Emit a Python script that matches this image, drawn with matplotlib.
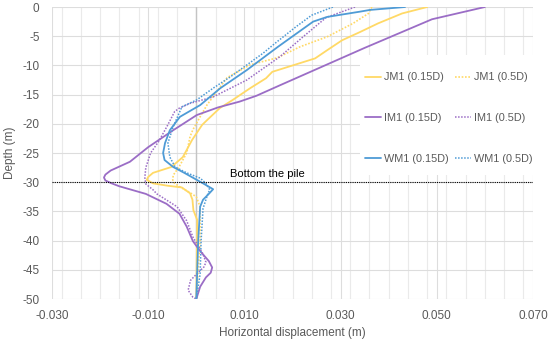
import matplotlib
matplotlib.use("Agg")
import matplotlib.pyplot as plt
from matplotlib.ticker import MultipleLocator, FixedLocator
from matplotlib.patches import Rectangle

plt.rcParams['font.family'] = ['Liberation Sans', 'DejaVu Sans']

# ---------------- data (depth in m, displacement in m) ----------------
jm1_015_depth = [0, -1.1, -2.8, -4.3, -5.7, -7.4, -8.8, -9.6, -11.1, -12.2, -13.9, -15.9, -17.3,
                 -19.4, -20.2, -22.8, -25.7, -27.4, -28.4, -29.1, -29.6, -30.2, -30.6, -30.9,
                 -31.9, -33.0, -34.8, -36.5, -50]
jm1_015_disp = [0.048, 0.0428, 0.0378, 0.034, 0.0303, 0.0272, 0.0247, 0.0216, 0.0158, 0.0145, 0.0112,
                0.0076, 0.0049, 0.0022, 0.0012, -0.0009, -0.0028, -0.0052, -0.0090, -0.0100, -0.0103,
                -0.0090, -0.0060, -0.0030, -0.0013, -0.0008, -0.0006, 0.0002, 0.0]

jm1_05_depth = [0, -1.1, -2.8, -5.1, -6.8, -8.7, -9.9, -12.1, -14.2, -16.8, -18.8, -21.0, -22.2,
                -25.0, -27.4, -28.8, -29.6, -30.2, -30.8, -31.8, -32.5, -34.2, -40.0, -50]
jm1_05_disp = [0.0365, 0.0358, 0.0326, 0.0272, 0.0216, 0.0168, 0.0112, 0.0064, 0.0045, 0.0022, 0.0008,
               -0.0007, -0.0013, -0.0020, -0.0036, -0.0048, -0.0049, -0.0045, -0.0034, -0.0013,
               0.0, 0.0008, 0.0008, 0.0]

im1_015_depth = [0, -2.1, -7.0, -13.4, -15.2, -16.2, -17.2, -18.5, -21.1, -24.0, -26.5, -28.0,
                 -28.7, -29.2, -29.7, -30.2, -30.7, -32.0, -33.7, -35.4, -37.6, -40.1, -41.8,
                 -43.5, -44.6, -45.5, -46.3, -47.9, -50]
im1_015_disp = [0.060, 0.049, 0.035, 0.0174, 0.0125, 0.0090, 0.0045, 0.0001, -0.0048, -0.0100, -0.0138,
                -0.0178, -0.0189, -0.0192, -0.0189, -0.0176, -0.0160, -0.0105, -0.0062, -0.0035,
                -0.0020, -0.0007, 0.0008, 0.0026, 0.0033, 0.0030, 0.0020, 0.0008, 0.0]

im1_05_depth = [0, -1.8, -5.1, -8.5, -12.5, -15.4, -16.5, -17.3, -17.9, -20.3, -23.0, -25.0,
                -27.5, -29.2, -30.3, -31.3, -32.0, -34.2, -36.6, -39.4, -42.3, -43.7, -44.5,
                -45.7, -46.8, -48.5, -49.7, -50]
im1_05_disp = [0.033, 0.027, 0.0222, 0.0174, 0.0105, 0.0035, -0.0013, -0.0035, -0.0045, -0.0060,
               -0.0078, -0.0095, -0.0105, -0.0107, -0.0105, -0.0090, -0.0082, -0.0040, -0.0020,
               -0.0007, 0.0014, 0.0020, 0.0016, 0.0001, -0.0012, -0.0017, -0.0007, 0.0]

wm1_015_depth = [0, -0.5, -0.8, -1.7, -2.5, -6.8, -10.8, -13.9, -16.8, -18.8, -21.1, -23.3, -25.0,
                 -26.2, -27.4, -28.4, -29.6, -30.2, -31.2, -32.0, -33.0, -34.2, -40.0, -50]
wm1_015_disp = [0.0434, 0.0361, 0.034, 0.0272, 0.0243, 0.0170, 0.0105, 0.0050, 0.0008, -0.0034,
                -0.0055, -0.0065, -0.0069, -0.0066, -0.0048, -0.0025, 0.0001, 0.0014, 0.0035,
                0.0026, 0.0014, 0.0008, 0.0004, 0.0]

wm1_05_depth = [0, -1.4, -3.4, -6.2, -7.9, -12.0, -13.9, -15.9, -17.1, -20.5, -23.3, -25.7, -27.4,
                -28.4, -29.3, -30.2, -31.3, -32.0, -33.0, -34.5, -40.0, -45.7, -50]
wm1_05_disp = [0.0284, 0.0240, 0.0207, 0.0164, 0.0139, 0.0070, 0.0035, 0.0001, -0.0030, -0.0048,
               -0.0059, -0.0055, -0.0044, -0.0020, 0.0008, 0.0020, 0.0028, 0.0024, 0.0020, 0.0014,
               0.0010, 0.0008, 0.0]

x_ticks = [-0.030, -0.010, 0.010, 0.030, 0.050, 0.070]
y_ticks = [0, -5, -10, -15, -20, -25, -30, -35, -40, -45, -50]
pile_bottom = -30

# ---------------- styling ----------------
YEL = '#FFD966'
PUR = '#9B6DC6'
BLU = '#4E9BD6'
TXT = '#595959'
DOT = (0, (1, 1))

fig = plt.figure(figsize=(5.5, 3.48), dpi=100)
ax = fig.add_axes([52 / 550, 1 - 299 / 348, 481 / 550, 292 / 348])

ax.set_xlim(-0.030, 0.070)
ax.set_ylim(-50, 0)
ax.xaxis.set_major_locator(FixedLocator(x_ticks))
ax.xaxis.set_minor_locator(MultipleLocator(0.004))
ax.yaxis.set_major_locator(FixedLocator(y_ticks))
ax.set_xticklabels([f"{v:.3f}" for v in x_ticks])
ax.set_yticklabels([f"{v:d}" for v in y_ticks])
ax.tick_params(which='both', length=0, labelsize=8.5, labelcolor=TXT)
ax.tick_params(axis='x', pad=8)
ax.tick_params(axis='y', pad=9)
ax.grid(which='major', color='#DDDDDD', linewidth=0.8)
ax.grid(which='minor', axis='x', color='#EAEAEA', linewidth=0.8)
ax.set_axisbelow(True)
for s in ax.spines.values():
    s.set_visible(False)
ax.axvline(0, color='#C4C4C4', linewidth=1.0, zorder=1)

kw = dict(solid_joinstyle='round', solid_capstyle='round')
l1, = ax.plot(jm1_015_disp, jm1_015_depth, color=YEL, lw=1.3, label='JM1 (0.15D)', **kw)
l2, = ax.plot(jm1_05_disp, jm1_05_depth, color=YEL, lw=1.2, ls=DOT, label='JM1 (0.5D)')
l3, = ax.plot(im1_015_disp, im1_015_depth, color=PUR, lw=1.3, label='IM1 (0.15D)', **kw)
l4, = ax.plot(im1_05_disp, im1_05_depth, color=PUR, lw=1.1, ls=DOT, label='IM1 (0.5D)')
l5, = ax.plot(wm1_015_disp, wm1_015_depth, color=BLU, lw=1.3, label='WM1 (0.15D)', **kw)
l6, = ax.plot(wm1_05_disp, wm1_05_depth, color=BLU, lw=1.1, ls=DOT, label='WM1 (0.5D)')

ax.axhline(pile_bottom, color='black', lw=0.8, ls=DOT, zorder=3)
ax.text(0.0070, pile_bottom + 0.5, 'Bottom the pile', fontsize=8, color='black',
        va='bottom', ha='left')

# white legend panel
ax.add_patch(Rectangle((0.64, 0.425), 0.36, 0.411, transform=ax.transAxes,
                       facecolor='white', edgecolor='none', zorder=4))
leg = ax.legend(handles=[l1, l3, l5, l2, l4, l6], ncol=2, loc='upper left',
                bbox_to_anchor=(0.651, 0.776), borderaxespad=0, frameon=False,
                fontsize=7.8, labelcolor=TXT, handlelength=1.45, handletextpad=0.3,
                columnspacing=0.6, labelspacing=2.85, borderpad=0)
leg.set_zorder(5)

fig.text(292 / 550, 1 - 333 / 348, 'Horizontal displacement (m)', ha='center', va='center',
         fontsize=8.5, color=TXT)
fig.text(10 / 550, 1 - 153 / 348, 'Depth (m)', ha='center', va='center', rotation=90,
         fontsize=8.5, color=TXT)

fig.savefig('out.png', dpi=100)
